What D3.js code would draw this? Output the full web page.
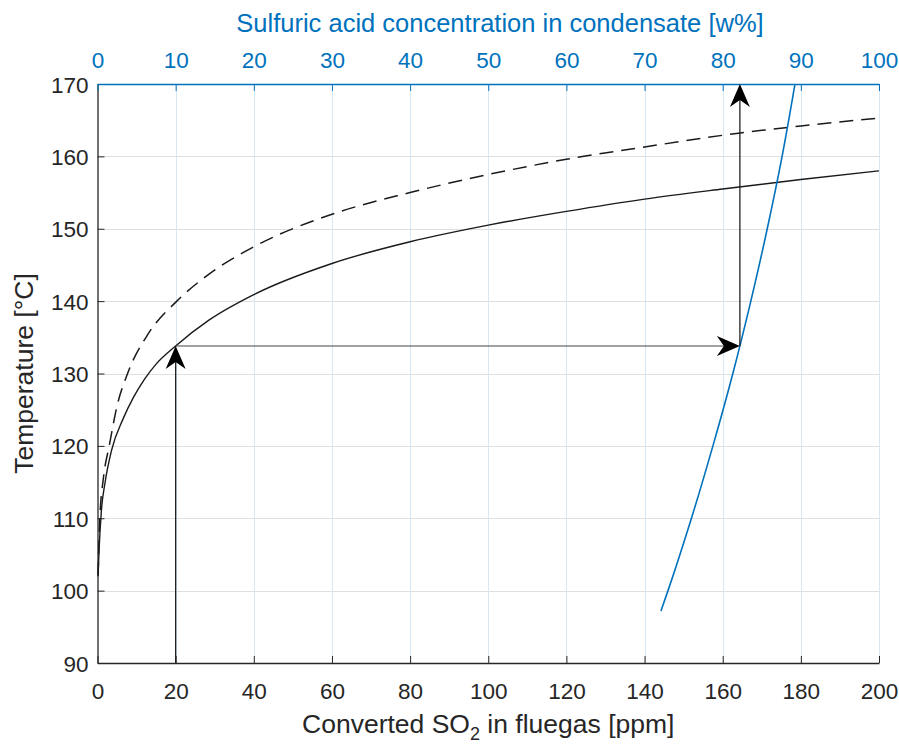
<!DOCTYPE html>
<html>
<head>
<meta charset="utf-8">
<script src="https://cdn.jsdelivr.net/npm/d3@7"></script>
<style>
  html, body { margin: 0; padding: 0; background: #fff; }
  svg { display: block; font-family: "Liberation Sans", Arial, Helvetica, sans-serif; }
</style>
</head>
<body>
<svg id="chart" width="899" height="745"></svg>
<script>
// ---- Data ----
// Bottom axis: converted SO2 in fluegas [ppm]
const xTicksPpm = [0, 20, 40, 60, 80, 100, 120, 140, 160, 180, 200];
// Top axis: sulfuric acid concentration [w%]
const xTicksW = [0, 10, 20, 30, 40, 50, 60, 70, 80, 90, 100];
// Left axis: temperature [°C]
const yTicksT = [90, 100, 110, 120, 130, 140, 150, 160, 170];

// Solid curve (acid dew point vs ppm)
const solidPpm  = [0.15, 0.4, 1.0, 1.9, 3.6, 6.6, 9.2, 12.0, 15.0, 20.0, 28.6, 40.0, 60.0, 80.0, 100.0, 120.0, 140.0, 160.0, 180.0, 200.0];
const solidTemp = [102.2, 105.6, 111.1, 114.8, 119.4, 123.8, 126.7, 129.2, 131.3, 133.8, 137.4, 140.9, 145.2, 148.2, 150.5, 152.4, 154.1, 155.5, 156.8, 158.0];

// Dashed curve
const dashPpm  = [0.15, 0.35, 0.6, 1.5, 3.0, 5.0, 7.7, 13.0, 20.3, 28.2, 40.0, 60.0, 80.0, 100.0, 120.0, 140.0, 164.0, 180.0, 200.0];
const dashTemp = [102.0, 106.0, 110.0, 115.5, 120.0, 125.5, 130.0, 135.5, 140.0, 143.6, 147.5, 152.0, 155.0, 157.5, 159.6, 161.3, 163.2, 164.2, 165.3];

// Blue curve (top axis, w%)
const acidW    = [72.1, 73.0, 76.0, 78.75, 81.3, 83.6, 85.7, 87.6, 89.25];
const acidTemp = [97.2, 100, 110, 120, 130, 140, 150, 160, 170];

// Arrows (ppm, °C): start -> end
const arrowStartPpm = [20, 20, 164.4];
const arrowStartT   = [90, 133.8, 133.8];
const arrowEndPpm   = [20, 164.4, 164.4];
const arrowEndT     = [133.8, 133.8, 170];

// ---- Layout ----
const svg = d3.select("#chart");
const L = 97.5, R = 879, T = 84, B = 663;
const BLUE = "#0072BD", AX = "#262626";

const x = d3.scaleLinear().domain([0, 200]).range([L, R]);
const xw = d3.scaleLinear().domain([0, 100]).range([L, R]);
const y = d3.scaleLinear().domain([90, 170]).range([B, T]);

// Grid
const grid = svg.append("g");
grid.selectAll("line.h").data(yTicksT.slice(1, -1)).join("line")
  .attr("x1", L).attr("x2", R)
  .attr("y1", d => Math.round(y(d)) + 0.5).attr("y2", d => Math.round(y(d)) + 0.5)
  .attr("stroke", "#dfdfdf").attr("stroke-width", 1);
grid.selectAll("line.v").data(xTicksW.slice(1)).join("line")
  .attr("y1", T).attr("y2", B)
  .attr("x1", d => Math.round(xw(d)) + 0.5).attr("x2", d => Math.round(xw(d)) + 0.5)
  .attr("stroke", "#d6e8f4").attr("stroke-width", 1);

// Axes
const tickFont = 22.5;
const gBottom = svg.append("g").attr("transform", `translate(0,${B})`)
  .call(d3.axisBottom(x).tickValues(xTicksPpm).tickSize(-7).tickPadding(0).tickSizeOuter(0));
gBottom.selectAll("text").attr("dy", null).attr("y", 36);
const gLeft = svg.append("g").attr("transform", `translate(${L},0)`)
  .call(d3.axisLeft(y).tickValues(yTicksT).tickSize(-7).tickSizeOuter(0));
gLeft.selectAll("text").attr("x", -9).attr("dy", "0.36em");
const gTop = svg.append("g").attr("transform", `translate(0,${T})`)
  .call(d3.axisTop(xw).tickValues(xTicksW).tickSize(-7).tickSizeOuter(0));
gTop.selectAll("text").attr("y", -16).attr("dy", null);

[gBottom, gLeft].forEach(g => {
  g.selectAll(".domain").attr("stroke", AX).attr("stroke-width", 1.3);
  g.selectAll(".tick line").attr("stroke", AX).attr("stroke-width", 1);
  g.selectAll("text").attr("fill", AX).style("font-size", tickFont + "px").style("font-family", "'Liberation Sans', Arial, sans-serif");
});
gTop.selectAll(".domain").attr("stroke", BLUE).attr("stroke-width", 1.3);
gTop.selectAll(".tick line").attr("stroke", BLUE).attr("stroke-width", 1);
gTop.selectAll("text").attr("fill", BLUE).style("font-size", tickFont + "px").style("font-family", "'Liberation Sans', Arial, sans-serif");

// Curves
const solidData = solidPpm.map((p, i) => [p, solidTemp[i]]);
const dashData = dashPpm.map((p, i) => [p, dashTemp[i]]);
const acidData = acidW.map((w, i) => [w, acidTemp[i]]);

const lineX = d3.line().x(d => x(d[0])).y(d => y(d[1])).curve(d3.curveMonotoneX);
const lineW = d3.line().x(d => xw(d[0])).y(d => y(d[1])).curve(d3.curveMonotoneY);

const plot = svg.append("g");
plot.append("path").datum(dashData).attr("d", lineX)
  .attr("fill", "none").attr("stroke", "#1a1a1a").attr("stroke-width", 1.5)
  .attr("stroke-dasharray", "14,8");
plot.append("path").datum(solidData).attr("d", lineX)
  .attr("fill", "none").attr("stroke", "#1a1a1a").attr("stroke-width", 1.4);
plot.append("path").datum(acidData).attr("d", lineW)
  .attr("fill", "none").attr("stroke", BLUE).attr("stroke-width", 1.6);

// Arrows
const arrows = arrowStartPpm.map((p, i) => ({
  x1: x(p), y1: y(arrowStartT[i]), x2: x(arrowEndPpm[i]), y2: y(arrowEndT[i])
}));
const ag = svg.append("g");
arrows.forEach((a, i) => {
  const dx = a.x2 - a.x1, dy = a.y2 - a.y1;
  const len = Math.hypot(dx, dy);
  const ux = dx / len, uy = dy / len;
  const nx = -uy, ny = ux;
  const headLen = 23, halfW = 10, notch = 16;
  ag.append("line")
    .attr("x1", a.x1).attr("y1", a.y1)
    .attr("x2", a.x2 - ux * notch).attr("y2", a.y2 - uy * notch)
    .attr("stroke", i === 1 ? "#444" : "#222").attr("stroke-width", i === 1 ? 1 : 1.3);
  const pts = [
    [a.x2, a.y2],
    [a.x2 - ux * headLen + nx * halfW, a.y2 - uy * headLen + ny * halfW],
    [a.x2 - ux * notch, a.y2 - uy * notch],
    [a.x2 - ux * headLen - nx * halfW, a.y2 - uy * headLen - ny * halfW]
  ];
  ag.append("path").attr("d", "M" + pts.map(p => p.join(",")).join("L") + "Z")
    .attr("fill", "#000");
});

// Labels
svg.append("text")
  .attr("x", (L + R) / 2).attr("y", 733)
  .attr("text-anchor", "middle").attr("fill", AX).style("font-size", "26.5px")
  .call(t => {
    t.append("tspan").text("Converted SO");
    t.append("tspan").attr("dy", 7).style("font-size", "18px").text("2");
    t.append("tspan").attr("dy", -7).text(" in fluegas [ppm]");
  });

svg.append("text")
  .attr("x", 500).attr("y", 32)
  .attr("text-anchor", "middle").attr("fill", BLUE).style("font-size", "25.5px")
  .text("Sulfuric acid concentration in condensate [w%]");

svg.append("text")
  .attr("transform", `translate(33,${(T + B) / 2}) rotate(-90)`)
  .attr("text-anchor", "middle").attr("fill", AX).style("font-size", "26.5px")
  .text("Temperature [°C]");
</script>
</body>
</html>
